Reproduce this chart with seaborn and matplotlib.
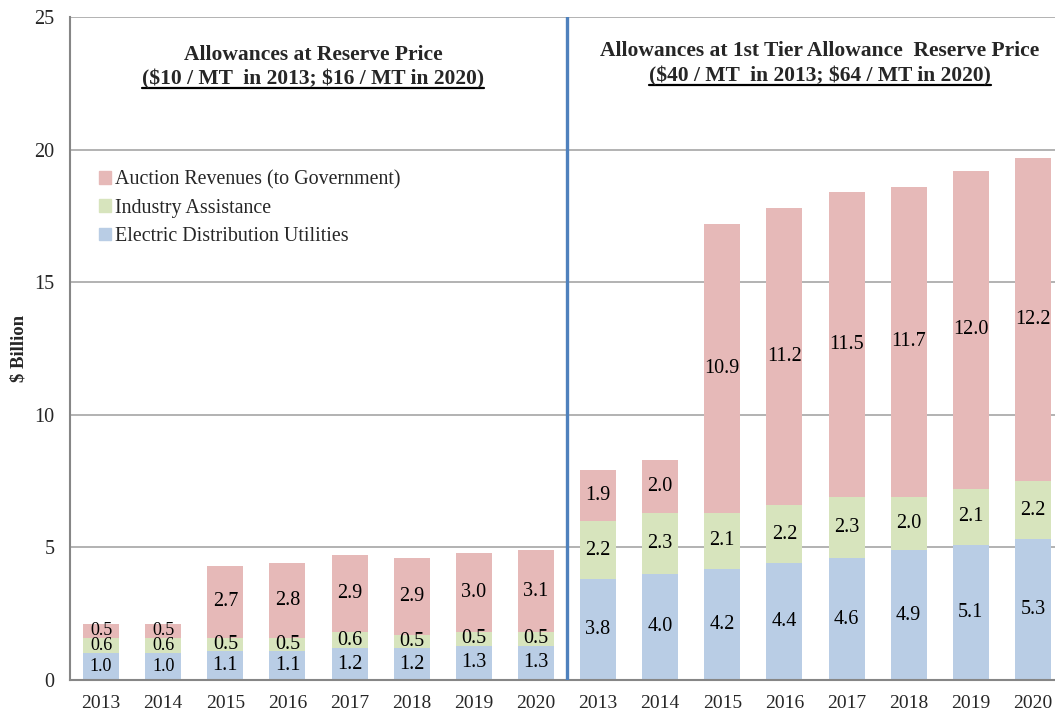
import matplotlib
matplotlib.use("Agg")
import matplotlib.pyplot as plt
from matplotlib.lines import Line2D
import seaborn as sns
import pandas as pd
import numpy as np

years = ["2013", "2014", "2015", "2016", "2017", "2018", "2019", "2020"] * 2
groups = ["Reserve"] * 8 + ["Tier1"] * 8
electric = [1.0, 1.0, 1.1, 1.1, 1.2, 1.2, 1.3, 1.3, 3.8, 4.0, 4.2, 4.4, 4.6, 4.9, 5.1, 5.3]
industry = [0.6, 0.6, 0.5, 0.5, 0.6, 0.5, 0.5, 0.5, 2.2, 2.3, 2.1, 2.2, 2.3, 2.0, 2.1, 2.2]
auction = [0.5, 0.5, 2.7, 2.8, 2.9, 2.9, 3.0, 3.1, 1.9, 2.0, 10.9, 11.2, 11.5, 11.7, 12.0, 12.2]

series_names = ["Auction Revenues (to Government)", "Industry Assistance", "Electric Distribution Utilities"]
colors = {"auction": "#E6B9B8", "industry": "#D7E4BD", "electric": "#B9CDE5"}

title_left = ["Allowances at Reserve Price", r"(\$10 / MT  in 2013; \$16 / MT in 2020)"]
title_right = ["Allowances at 1st Tier Allowance  Reserve Price", r"(\$40 / MT  in 2013; \$64 / MT in 2020)"]

sns.set_style("white")
plt.rcParams["font.family"] = ["Liberation Serif", "DejaVu Serif"]

W, H = 1055, 713
fig = plt.figure(figsize=(W / 100, H / 100), dpi=100)
ax_left, ax_right, ax_top, ax_bot = 70, 1064, 17, 680
ax = fig.add_axes([ax_left / W, 1 - ax_bot / H, (ax_right - ax_left) / W, (ax_bot - ax_top) / H])

slots = [f"{g}-{y}" for g, y in zip(groups, years)]
df = pd.DataFrame({"slot": slots, "electric": electric, "industry": industry, "auction": auction})
df["lvl1"] = df["electric"]
df["lvl2"] = df["electric"] + df["industry"]
df["lvl3"] = df["lvl2"] + df["auction"]

bw = 0.58
sns.barplot(data=df, x="slot", y="lvl3", order=slots, color=colors["auction"], width=bw,
            saturation=1, ax=ax, linewidth=0, zorder=3)
sns.barplot(data=df, x="slot", y="lvl2", order=slots, color=colors["industry"], width=bw,
            saturation=1, ax=ax, linewidth=0, zorder=3)
sns.barplot(data=df, x="slot", y="lvl1", order=slots, color=colors["electric"], width=bw,
            saturation=1, ax=ax, linewidth=0, zorder=3)

# data labels
for i in range(len(slots)):
    segs = [(0, df["lvl1"][i], electric[i]), (df["lvl1"][i], df["lvl2"][i], industry[i]),
            (df["lvl2"][i], df["lvl3"][i], auction[i])]
    small = df["lvl3"][i] < 3
    for lo, hi, v in segs:
        ax.text(i, (lo + hi) / 2, f"{v:.1f}", ha="center", va="center",
                fontsize=13 if small else 14.5, color="#000000", zorder=5)

ax.set_xlim(-0.5, 15.5)
ax.set_ylim(0, 25)
ax.set_yticks([0, 5, 10, 15, 20, 25])
ax.set_xticks(range(16))
ax.set_xticklabels(years, fontsize=14)
ax.set_xticks(np.arange(-0.5, 16, 1), minor=True)
ax.tick_params(axis="x", which="major", length=0, pad=10.5)
ax.tick_params(axis="x", which="minor", length=6, width=1.2, color="#868686", direction="out")
ax.tick_params(axis="y", length=6, width=1.2, color="#868686", direction="out", pad=5, labelsize=14.5)
ax.set_xlabel("")
ax.set_ylabel("$ Billion", fontsize=13.5, fontweight="bold", labelpad=5)

ax.yaxis.grid(True, color="#A6A6A6", linewidth=1.2, zorder=0)
ax.set_axisbelow(True)
for s in ["top", "right"]:
    ax.spines[s].set_visible(False)
for s in ["left", "bottom"]:
    ax.spines[s].set_color("#868686")
    ax.spines[s].set_linewidth(1.5)
    ax.spines[s].set_zorder(4)

ax.axvline(7.5, color="#4F81BD", linewidth=2.4, zorder=6)

# legend
handles = [plt.Rectangle((0, 0), 1, 1, color=colors[k]) for k in ["auction", "industry", "electric"]]
leg = fig.legend(handles, series_names, loc="upper left", bbox_to_anchor=(99 / W, 1 - 170 / H),
                 frameon=False, fontsize=14.4, handlelength=0.6, handleheight=0.6,
                 handletextpad=0.2, labelspacing=0.47, borderpad=0, borderaxespad=0)

# titles
t1a = fig.text(313 / W, 1 - 55 / H, title_left[0], ha="center", va="center",
               fontsize=15.5, fontweight="bold")
t1b = fig.text(313 / W, 1 - 79 / H, title_left[1], ha="center", va="center",
               fontsize=15.5, fontweight="bold")
t2a = fig.text(820 / W, 1 - 51 / H, title_right[0], ha="center",
               va="center", fontsize=15.5, fontweight="bold")
t2b = fig.text(820 / W, 1 - 76 / H, title_right[1], ha="center", va="center",
               fontsize=15.5, fontweight="bold")

fig.canvas.draw()
r = fig.canvas.get_renderer()
for t in [t1b, t2b]:
    bb = t.get_window_extent(r)
    yl = bb.y0 + 1
    fig.add_artist(Line2D([bb.x0 / W, bb.x1 / W], [yl / H, yl / H], color="black", linewidth=1.6))

fig.savefig("out.png", dpi=100)
